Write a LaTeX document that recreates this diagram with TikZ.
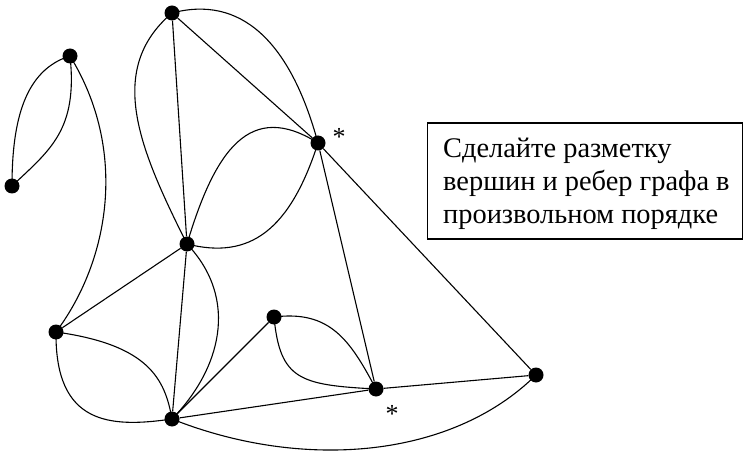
\documentclass[tikz,border=0pt]{standalone}
\usepackage{fontspec}
\setmainfont{Liberation Serif}
\newfontfamily\rufont{Liberation Serif}
\begin{document}
\begin{tikzpicture}[x=1pt,y=-1pt,
  vertex/.style={circle,fill=black,inner sep=0pt,minimum size=15pt},
  edge/.style={line width=1.1pt},
  txt/.style={font=\rufont\fontsize{28.4}{33}\selectfont,inner sep=0pt,anchor=base west},
  star/.style={font=\rufont\fontsize{26}{30}\selectfont,inner sep=0pt}]
\useasboundingbox (0,0) rectangle (744,457);
\node[vertex] (A) at (172,13) {};
\node[vertex] (B) at (70,56) {};
\node[vertex] (C) at (12,186) {};
\node[vertex] (D) at (318,143) {};
\node[vertex] (E) at (187,244) {};
\node[vertex] (F) at (56,332) {};
\node[vertex] (G) at (274,317) {};
\node[vertex] (H) at (376,389) {};
\node[vertex] (I) at (536,375) {};
\node[vertex] (J) at (172,419) {};
\node[star] (s1) at (339,137) {*};
\node[star] (s2) at (392,414) {*};
\begin{scope}[edge]
\draw (A) -- (D);
\draw (A) -- (E);
\draw (D) -- (H);
\draw (D) -- (I);
\draw (E) -- (F);
\draw (E) -- (J);
\draw (J) -- (G);
\draw (J) -- (H);
\draw (H) -- (I);
\draw (A.center) .. controls (240,-5) and (290,40) .. (D.center);
\draw (A.center) .. controls (105,70) and (140,150) .. (E.center);
\draw (B.center) .. controls (25,70) and (12,120) .. (C.center);
\draw (B.center) .. controls (78,130) and (50,150) .. (C.center);
\draw (B.center) .. controls (128,150) and (110,260) .. (F.center);
\draw (D.center) .. controls (250,100) and (215,150) .. (E.center);
\draw (D.center) .. controls (290,230) and (250,260) .. (E.center);
\draw (E.center) .. controls (240,300) and (220,370) .. (J.center);
\draw (F.center) .. controls (150,345) and (165,380) .. (J.center);
\draw (F.center) .. controls (55,425) and (110,428) .. (J.center);
\draw (J.center) .. controls (300,470) and (450,460) .. (I.center);
\draw (G.center) .. controls (330,310) and (350,340) .. (H.center);
\draw (G.center) .. controls (280,380) and (300,385) .. (H.center);
\end{scope}
\node[draw,line width=1.2pt,inner sep=0pt,minimum width=315pt,minimum height=116pt] (box) at (585,181) {};
\node[txt] (l1) at (443,158) {Сделайте разметку};
\node[txt] (l2) at (443,190.5) {вершин и ребер графа в};
\node[txt] (l3) at (443,223) {произвольном порядке};
\end{tikzpicture}
\end{document}
